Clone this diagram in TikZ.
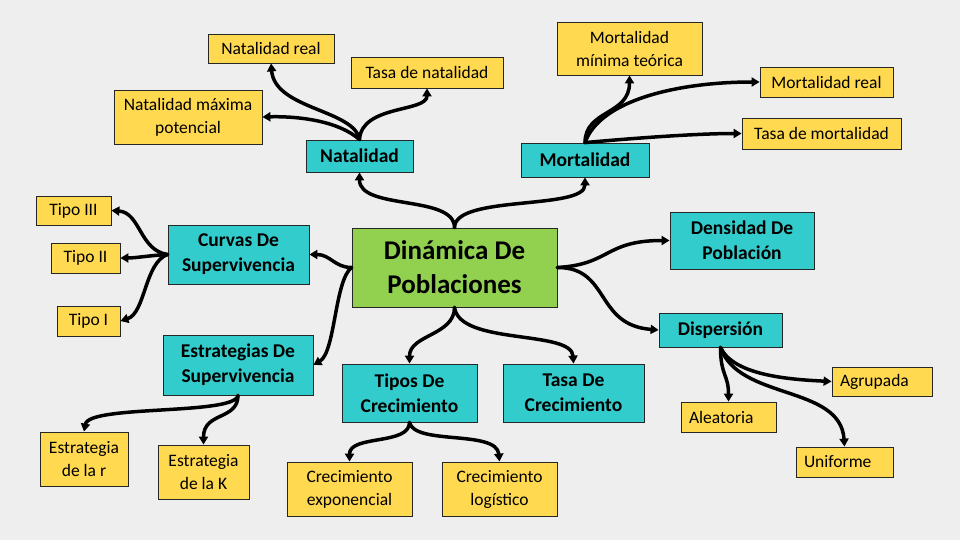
\documentclass[tikz,border=0pt]{standalone}
\usepackage{fontspec}
\setmainfont{Carlito}
\usetikzlibrary{arrows.meta}
\definecolor{bg}{RGB}{238,238,238}
\definecolor{yel}{RGB}{255,217,80}
\definecolor{tea}{RGB}{51,204,204}
\definecolor{grn}{RGB}{146,208,80}
\tikzset{
 box/.style={draw=black!85, line width=0.8pt, inner sep=0pt, align=center, text=black},
 ybox/.style={box, fill=yel, font=\fontsize{17.5}{23}\selectfont},
 lbox/.style={ybox, align=left, inner xsep=8pt},
 tbox/.style={box, fill=tea, font=\fontsize{19.5}{25}\selectfont\bfseries},
 gbox/.style={box, fill=grn, font=\fontsize{27}{34}\selectfont\bfseries},
 link/.style={line width=3.5pt, line cap=round, -{Triangle[length=8pt,width=9pt]}, black}
}
\begin{document}
\begin{tikzpicture}[x=1pt,y=-1pt]
\fill[bg] (0,0) rectangle (960,540);
\useasboundingbox (0,0) rectangle (960,540);

% nodes
\node[ybox, minimum width=126pt, minimum height=29pt] (natreal) at (271,48.5) {Natalidad real};
\node[ybox, minimum width=152pt, minimum height=31pt] (tasanat) at (427,72.5) {Tasa de natalidad};
\node[ybox, minimum width=148pt, minimum height=54pt] (natmax) at (188,117) {Natalidad máxima\\potencial};
\node[tbox, minimum width=107pt, minimum height=32pt] (natal) at (359.5,156) {Natalidad};
\node[ybox, minimum width=145pt, minimum height=53pt] (mortmin) at (629.5,48.5) {Mortalidad\\mínima teórica};
\node[ybox, minimum width=133pt, minimum height=30pt] (mortreal) at (826.5,82) {Mortalidad real};
\node[ybox, minimum width=159pt, minimum height=31pt] (tasamort) at (821.5,133.5) {Tasa de mortalidad};
\node[tbox, minimum width=128pt, minimum height=34pt] (mort) at (585,160) {Mortalidad};
\node[ybox, minimum width=75pt, minimum height=29pt] (tipo3) at (73.5,210.5) {Tipo III};
\node[ybox, minimum width=69pt, minimum height=30pt] (tipo2) at (85.5,258) {Tipo II};
\node[ybox, minimum width=63pt, minimum height=30pt] (tipo1) at (88.5,321) {Tipo I};
\node[tbox, minimum width=141pt, minimum height=59pt] (curvas) at (238.5,254.5) {Curvas De\\Supervivencia};
\node[gbox, minimum width=205pt, minimum height=79pt] (din) at (454.5,267.5) {Dinámica De\\Poblaciones};
\node[tbox, minimum width=144pt, minimum height=57pt] (dens) at (742,240.5) {Densidad De\\Población};
\node[tbox, minimum width=123pt, minimum height=34pt] (disp) at (720.5,330) {Dispersión};
\node[tbox, minimum width=150pt, minimum height=60pt] (estr) at (238,365) {Estrategias De\\Supervivencia};
\node[ybox, minimum width=88pt, minimum height=54pt] (estrr) at (84,459) {Estrategia\\de la r};
\node[ybox, minimum width=91pt, minimum height=54pt] (estrk) at (203.5,472) {Estrategia\\de la K};
\node[tbox, minimum width=135pt, minimum height=58pt] (tipos) at (409.5,393) {Tipos De\\Crecimiento};
\node[tbox, minimum width=141pt, minimum height=58pt] (tasac) at (573.5,393) {Tasa De\\Crecimiento};
\node[ybox, minimum width=125pt, minimum height=54pt] (crecexp) at (349.5,489) {Crecimiento\\exponencial};
\node[ybox, minimum width=115pt, minimum height=54pt] (creclog) at (499.5,489) {Crecimiento\\logístico};
\node[lbox, text width=84pt, minimum height=29pt] (agrup) at (882,381.5) {Agrupada};
\node[lbox, text width=79pt, minimum height=30pt] (alea) at (728.5,417) {Aleatoria};
\node[lbox, text width=81pt, minimum height=30pt] (unif) at (844.5,462) {Uniforme};

% links
\draw[link] (din.north) .. controls +(0,-33) and +(0,38) .. (natal.south);
\draw[link] (din.north) .. controls +(0,-33) and +(0,33) .. (mort.south);
\draw[link] (natal.north) .. controls +(-5,-30) and +(4,46) .. (natreal.south);
\draw[link] (natal.north) .. controls +(2,-35) and +(0,24) .. (tasanat.south);
\draw[link] (natal.north) .. controls +(-20,-18) and +(38,-1) .. (natmax.east);
\draw[link] (mort.north) .. controls +(0,-33) and +(0,40) .. (mortmin.south);
\draw[link] (mort.north) .. controls +(15,-43) and +(-80,0) .. (mortreal.west);
\draw[link] (mort.north) .. controls +(55,-5) and +(-42,0) .. (tasamort.west);
\draw[link] (din.west) .. controls +(-17,0) and +(21,0) .. (curvas.east);
\draw[link] (din.west) .. controls +(-17,13) and +(22,-13) .. (estr.east);
\draw[link] (curvas.west) .. controls +(-28,-4) and +(29,2) .. (tipo3.east);
\draw[link] (curvas.west) .. controls +(-18,1) and +(15,0) .. (tipo2.east);
\draw[link] (curvas.west) .. controls +(-23,8) and +(25,-8) .. (tipo1.east);
\draw[link] (din.east) .. controls +(53,-3) and +(-65,0) .. (dens.west);
\draw[link] (din.east) .. controls +(53,0) and +(-64,-5) .. (disp.west);
\draw[link] (din.south) .. controls +(0,28) and +(0,-29) .. (tipos.north);
\draw[link] (din.south) .. controls +(5,38) and +(-2,-34) .. (tasac.north);
\draw[link] (estr.south) .. controls +(-3,20) and +(5,-27) .. (estrr.north);
\draw[link] (estr.south) .. controls +(0,25) and +(0,-33) .. (estrk.north);
\draw[link] (tipos.south) .. controls +(0,23) and +(0,-27) .. (crecexp.north);
\draw[link] (tipos.south) .. controls +(5,23) and +(-3,-32) .. (creclog.north);
\draw[link] (disp.south) .. controls +(13,28) and +(-42,-2) .. (agrup.west);
\draw[link] (disp.south) .. controls +(0,28) and +(0,-27) .. (alea.north);
\draw[link] (disp.south) .. controls +(18,53) and +(-4,-62) .. (unif.north);
\end{tikzpicture}
\end{document}
